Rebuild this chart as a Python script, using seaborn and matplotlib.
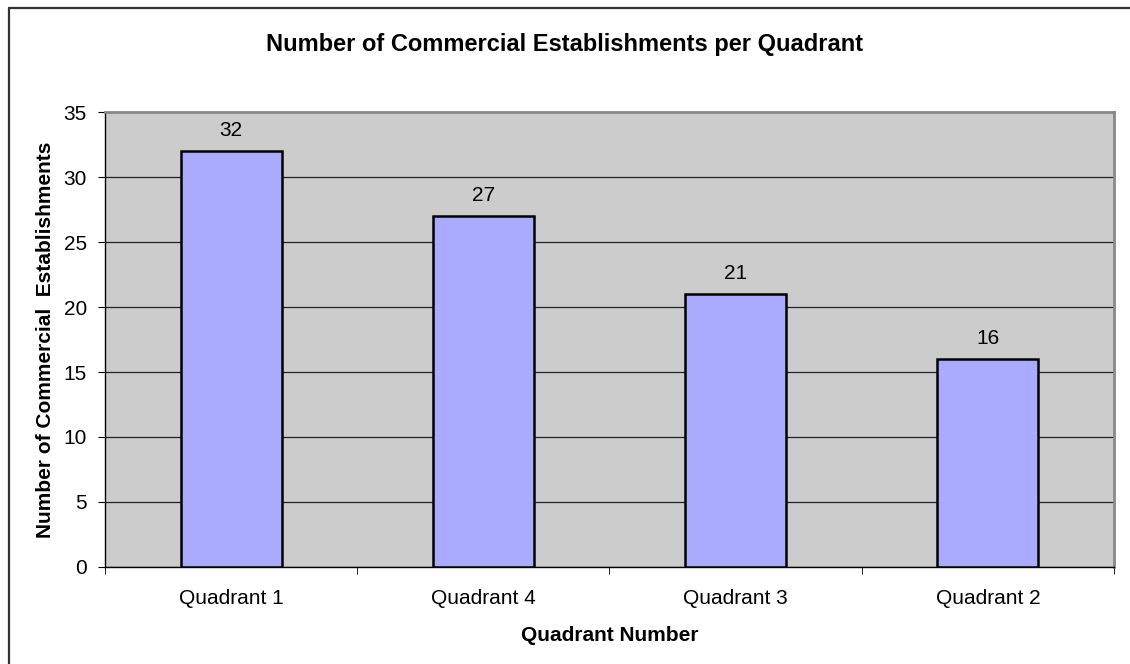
import matplotlib
matplotlib.use('Agg')
import matplotlib.pyplot as plt
import seaborn as sns
import pandas as pd

# Chart data
quadrants = ['Quadrant 1', 'Quadrant 4', 'Quadrant 3', 'Quadrant 2']
counts = [32, 27, 21, 16]
y_ticks = [0, 5, 10, 15, 20, 25, 30, 35]

df = pd.DataFrame({'quadrant': quadrants, 'count': counts})

sns.set_style('white')
plt.rcParams['font.family'] = ['Liberation Sans', 'DejaVu Sans']
plt.rcParams['text.color'] = 'black'
plt.rcParams['axes.labelcolor'] = 'black'
plt.rcParams['xtick.color'] = 'black'
plt.rcParams['ytick.color'] = 'black'

fig = plt.figure(figsize=(11.3, 6.64), dpi=100)
ax = fig.add_axes([0.0929, 0.1461, 0.8929, 0.6852])

sns.barplot(x='quadrant', y='count', data=df, color='#AAAAFF', width=0.40,
            edgecolor='black', linewidth=1.8, saturation=1, errorbar=None, ax=ax, zorder=3)

ax.set_facecolor('#CCCCCC')
ax.set_ylim(0, 35)
ax.set_xlim(-0.5, 3.5)
ax.set_yticks(y_ticks)
ax.yaxis.grid(True, color='#222222', linewidth=0.9)
ax.set_axisbelow(True)

# Category boundary ticks on x axis
ax.set_xticks([-0.5, 0.5, 1.5, 2.5, 3.5], minor=True)
ax.tick_params(axis='x', which='minor', length=5, direction='out', color='black', bottom=True)
ax.tick_params(axis='x', which='major', length=0, labelsize=15, pad=16)
ax.tick_params(axis='y', length=5, direction='out', color='black', left=True, labelsize=15, pad=8)

for side in ['left', 'bottom']:
    ax.spines[side].set_color('black')
    ax.spines[side].set_linewidth(1.0)
for side in ['top', 'right']:
    ax.spines[side].set_color('#888888')
    ax.spines[side].set_linewidth(2.0)

# Value labels above bars
for i, v in enumerate(counts):
    ax.annotate(str(v), (i, v), xytext=(0, 8), textcoords='offset points',
                ha='center', va='bottom', fontsize=15)

ax.set_xlabel('Quadrant Number', fontsize=15, fontweight='bold', labelpad=13)
ax.set_ylabel('Number of Commercial  Establishments', fontsize=15, fontweight='bold', labelpad=6)
fig.suptitle('Number of Commercial Establishments per Quadrant', fontsize=17,
             fontweight='bold', y=0.95)

# Outer frame (only left and top edges are visible in the chart)
fig.add_artist(plt.Line2D([8.5 / 1130, 8.5 / 1130], [0, 1 - 7.5 / 664], transform=fig.transFigure,
                          color='#333333', linewidth=1.6))
fig.add_artist(plt.Line2D([8.5 / 1130, 1], [1 - 7.5 / 664, 1 - 7.5 / 664], transform=fig.transFigure,
                          color='#333333', linewidth=1.6))

fig.savefig('out.png', dpi=100)
